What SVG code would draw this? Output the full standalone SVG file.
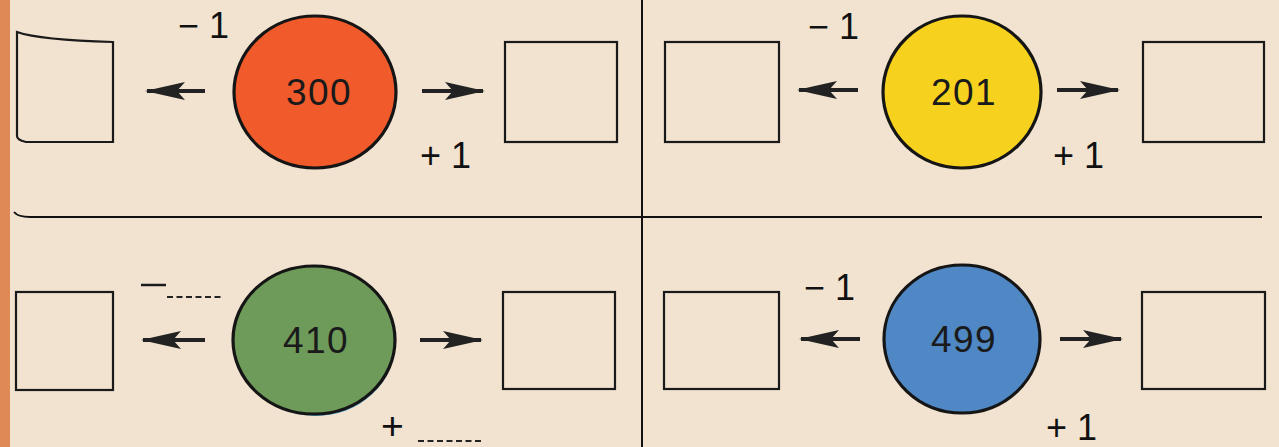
<svg xmlns="http://www.w3.org/2000/svg" width="1279" height="447" viewBox="0 0 1279 447">
<defs>
<marker id="ah" viewBox="0 0 40 20" refX="38" refY="10" markerWidth="40" markerHeight="20" markerUnits="userSpaceOnUse" orient="auto">
<path d="M0,1 L40,10 L0,19 L8,10 Z" fill="#222"/>
</marker>
<style>
.box{fill:none;stroke:#1a1a1a;stroke-width:2.2}
.c{stroke:#151515;stroke-width:3.2}
.num{font-family:"Liberation Sans",Arial,sans-serif;font-size:37px;fill:#1a1a1a;text-anchor:middle;letter-spacing:1.5px}
.op{font-family:"Liberation Sans",Arial,sans-serif;font-size:36px;fill:#111}
.big{font-size:39px}
.arr{stroke:#222;stroke-width:4;fill:none;marker-end:url(#ah)}
.dash{stroke:#222;stroke-width:2.2;stroke-dasharray:6 3.5}
.rule{stroke:#111;stroke-width:2}
</style>
</defs>
<rect x="0" y="0" width="1279" height="447" fill="#f2e3d0"/>
<rect x="0" y="0" width="10" height="447" fill="#df8a55"/>
<g id="grid">
<path class="rule" d="M14,212 Q18,217 30,217 L1262,217" fill="none"/>
<line class="rule" x1="642" y1="0" x2="642" y2="447"/>
</g>

<g id="q1">
<g id="q1-left-box"><path class="box" d="M17,32 Q40,40 113,42 L113,142 L26,142 Q17,140 17,136 Z"/></g>
<g id="q1-circle"><ellipse class="c" cx="315" cy="92" rx="81" ry="76" fill="#f15a2a"/><text class="num" x="319" y="105">300</text></g>
<g id="q1-right-box"><rect class="box" x="505" y="42" width="112" height="100"/></g>
<text class="op" x="178" y="38">− 1</text>
<text class="op" x="420" y="168">+ 1</text>
</g>

<g id="q2">
<g id="q2-left-box"><rect class="box" x="665" y="42" width="114" height="100"/></g>
<g id="q2-circle"><ellipse class="c" cx="962" cy="92" rx="79" ry="76" fill="#f6d21f"/><text class="num" x="964" y="105">201</text></g>
<g id="q2-right-box"><rect class="box" x="1143" y="42" width="121" height="100"/></g>
<text class="op" x="808" y="39">− 1</text>
<text class="op" x="1053" y="168">+ 1</text>
</g>

<g id="q3">
<g id="q3-left-box"><rect class="box" x="16" y="292" width="97" height="98"/></g>
<g id="q3-circle"><ellipse cx="316" cy="343" rx="79" ry="73" fill="#4f9fc9"/><ellipse class="c" cx="314" cy="340" rx="81" ry="74" fill="#6e9b5a"/><text class="num" x="316" y="353">410</text></g>
<g id="q3-right-box"><rect class="box" x="503" y="292" width="112" height="97"/></g>
<line x1="141" y1="285" x2="166" y2="285" stroke="#1a1a1a" stroke-width="2.5"/>
<line class="dash" x1="167" y1="297" x2="223" y2="297"/>
<text class="op big" x="381" y="439">+</text>
<line class="dash" x1="418" y1="441" x2="483" y2="441"/>
</g>

<g id="q4">
<g id="q4-left-box"><rect class="box" x="664" y="292" width="115" height="97"/></g>
<g id="q4-circle"><ellipse class="c" cx="962" cy="339" rx="78" ry="74" fill="#4f88c4"/><text class="num" x="964" y="352">499</text></g>
<g id="q4-right-box"><rect class="box" x="1142" y="292" width="123" height="97"/></g>
<text class="op" x="804" y="300">− 1</text>
<text class="op" x="1046" y="440">+ 1</text>
</g>

<g id="connectors">
<line class="arr" x1="205" y1="91" x2="147" y2="91"/>
<line class="arr" x1="422" y1="91" x2="483" y2="91"/>
<line class="arr" x1="858" y1="90" x2="799" y2="90"/>
<line class="arr" x1="1057" y1="90" x2="1118" y2="90"/>
<line class="arr" x1="205" y1="340" x2="143" y2="340"/>
<line class="arr" x1="420" y1="340" x2="481" y2="340"/>
<line class="arr" x1="860" y1="339" x2="801" y2="339"/>
<line class="arr" x1="1060" y1="339" x2="1121" y2="339"/>
</g>
</svg>
